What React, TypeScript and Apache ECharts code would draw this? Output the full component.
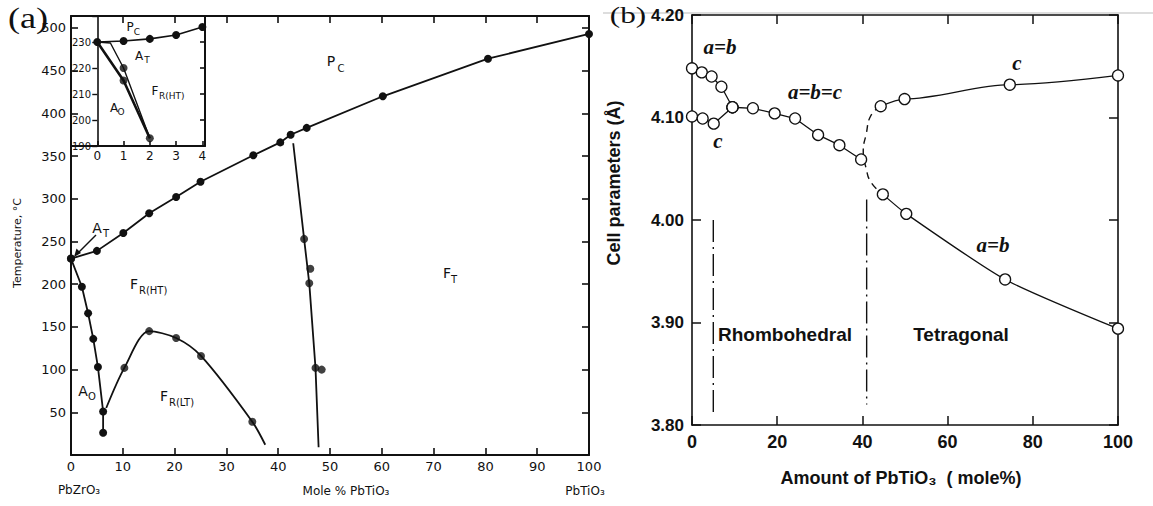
import React, { useEffect, useRef } from "react";
import * as echarts from "echarts";

// ---------- Panel (a): PbZrO3 - PbTiO3 phase diagram (x: mole % PbTiO3, y: °C)
const mainXTicks = [0, 10, 20, 30, 40, 50, 60, 70, 80, 90, 100];
const mainYTicks = [0, 50, 100, 150, 200, 250, 300, 350, 400, 450, 500];
const curieLine = [[0, 230], [5, 239], [10.1, 260], [15.1, 283], [20.3, 302], [25, 320], [35.2, 351], [40.4, 366], [42.4, 375], [45.5, 383], [60.2, 420], [80.5, 464], [100, 493]];
const mpbLine = [[42.9, 365], [45, 253], [46, 201], [47.2, 102], [47.8, 9]];
const mpbPoints = [[45, 253], [46.2, 218], [46, 201], [47.2, 102], [48.4, 100]];
const aoBoundary = [[0, 230], [2.1, 197], [3.3, 166], [4.3, 136], [5.2, 103], [6.2, 51], [6.2, 26]];
const fltBoundary = [[6.8, 55], [10.3, 102], [15.1, 145], [20.3, 137], [25.1, 116], [35, 39], [37.5, 12]];
const fltPoints = [[10.3, 102], [15.1, 145], [20.3, 137], [25.1, 116], [35, 39]];

// inset (0-4 mole %, 190-230 °C)
const insetCurie = [[0, 230], [1, 230.4], [2, 231.2], [3, 232.7], [4, 235.8]];
const insetATBoundary = [[0, 230], [0.5, 229.6], [1, 220], [2, 193]];
const insetAOBoundary = [[0, 230], [1, 215.2], [2, 193]];
const insetPoints = [[1, 220], [1, 215.2], [2, 193]];

// ---------- Panel (b): cell parameters (Å) vs mole % PbTiO3
const abRhombo = [[0, 4.148], [2.3, 4.144], [4.6, 4.14], [6.9, 4.13], [9.5, 4.11]];
const cRhombo = [[0, 4.101], [2.5, 4.099], [5.1, 4.094], [9.5, 4.11]];
const abcCubic = [[9.5, 4.11], [14.3, 4.109], [19.4, 4.104], [24.2, 4.099], [29.6, 4.083], [34.6, 4.073], [39.7, 4.059]];
const cTetra = [[44.3, 4.111], [49.9, 4.118], [74.6, 4.132], [100, 4.141]];
const abTetra = [[44.8, 4.025], [50.3, 4.006], [73.5, 3.942], [100, 3.894]];
const transitionCurve = [[44.3, 4.111], [42, 4.102], [40.9, 4.084], [40.2, 4.067], [40.9, 4.05], [42, 4.037], [44.8, 4.025]];
const rhomboLimit = [[5, 4.0], [5, 3.81]];
const tetraLimit = [[41, 4.02], [41, 3.82]];

const INK = "#111";
const SANS = "DejaVu Sans, Liberation Sans, sans-serif";
const ARIAL = "Liberation Sans, Arial, sans-serif";
const SERIF = "Liberation Serif, Times New Roman, serif";

type TOpt = { family?: string; weight?: string; style?: string; align?: string; rotation?: number; scaleX?: number };
const txt = (x: number, y: number, text: string, size: number, o: TOpt = {}) => ({
  type: "text",
  x,
  y,
  rotation: o.rotation || 0,
  scaleX: o.scaleX || 1,
  silent: true,
  z: 100,
  style: {
    text,
    fill: INK,
    fontSize: size,
    fontFamily: o.family || SANS,
    fontWeight: o.weight || "normal",
    fontStyle: o.style || "normal",
    textAlign: o.align || "center",
    align: o.align || "center",
    textVerticalAlign: "middle",
    verticalAlign: "middle",
  },
});

const hiddenAxisBase = {
  axisLabel: { show: false },
  splitLine: { show: false },
};

function buildOption() {
  const fmtMainY = (v: number) => (mainYTicks.includes(v) && v !== 0 ? String(v) : "");
  const fmtMainX = (v: number) => (mainXTicks.includes(v) ? String(v) : "");
  const lineA = { show: true, onZero: false, lineStyle: { color: INK, width: 2 } };
  const lineB = { show: true, onZero: false, lineStyle: { color: INK, width: 1.6 } };
  const tickA = { show: true, inside: true, length: 7, lineStyle: { color: INK, width: 1.6 } };
  const tickB = { show: true, inside: true, length: 9, lineStyle: { color: INK, width: 1.5 } };

  const filledDot = { symbol: "circle", symbolSize: 8, itemStyle: { color: INK } };
  const openDot = {
    symbol: "circle",
    symbolSize: 11,
    showSymbol: true,
    itemStyle: { color: "#fff", borderColor: INK, borderWidth: 1.3 },
  };

  const arrowTip = [74, 257];
  const SUB = 10;
  const BIG = 14;
  return {
    animation: false,
    backgroundColor: "#fff",
    grid: [
      { left: 71, top: 16, width: 518, height: 439, outerBoundsMode: "none", containLabel: false },
      { left: 71, top: 16, width: 134, height: 130, outerBoundsMode: "none", containLabel: false },
      { left: 692, top: 15, width: 426, height: 410, outerBoundsMode: "none", containLabel: false },
    ],
    xAxis: [
      {
        gridIndex: 0, type: "value", min: 0, max: 100, interval: 10,
        axisLine: { ...lineA, onZero: true }, axisTick: tickA, splitLine: { show: false },
        axisLabel: { formatter: fmtMainX, color: INK, fontFamily: SANS, fontSize: 13, margin: 5 },
      },
      { gridIndex: 0, type: "value", position: "top", min: 0, max: 100, interval: 10, axisLine: lineA, axisTick: tickA, ...hiddenAxisBase },
      {
        gridIndex: 1, type: "value", min: -1, max: 4.1, interval: 1,
        axisLine: { ...lineA, onZero: true }, axisTick: { ...tickA, length: 5 }, splitLine: { show: false },
        axisLabel: { formatter: (v: number) => (v >= 0 && Number.isInteger(v) ? String(v) : ""), color: INK, fontFamily: SANS, fontSize: 12, margin: 4 },
      },
      {
        gridIndex: 2, type: "value", min: 0, max: 100, interval: 20,
        axisLine: { ...lineB, onZero: true }, axisTick: tickB, splitLine: { show: false },
        axisLabel: { color: INK, fontFamily: ARIAL, fontWeight: "bold", fontSize: 18, margin: 8 },
      },
      { gridIndex: 2, type: "value", position: "top", min: 0, max: 100, interval: 20, axisLine: lineB, axisTick: tickB, ...hiddenAxisBase },
    ],
    yAxis: [
      {
        gridIndex: 0, type: "value", min: 0, max: 514, interval: 50,
        axisLine: { ...lineA, onZero: true }, axisTick: tickA, splitLine: { show: false },
        axisLabel: { formatter: fmtMainY, color: INK, fontFamily: SANS, fontSize: 13, margin: 5 },
      },
      { gridIndex: 0, type: "value", position: "right", min: 0, max: 514, interval: 50, axisLine: lineA, axisTick: tickA, ...hiddenAxisBase },
      {
        gridIndex: 1, type: "value", min: 190, max: 240, interval: 10,
        axisLine: { show: true, onZero: true, lineStyle: { color: INK, width: 1.6 } },
        axisTick: { show: true, inside: false, length: 5, lineStyle: { color: INK, width: 1.4 } },
        splitLine: { show: false },
        axisLabel: { formatter: (v: number) => (v < 240 ? String(v) : ""), color: INK, fontFamily: SANS, fontSize: 10, margin: -20 },
      },
      { gridIndex: 1, type: "value", position: "right", min: 190, max: 240, interval: 10, axisLine: { ...lineA, width: 1.8 }, axisTick: { ...tickA, length: 5 }, ...hiddenAxisBase },
      {
        gridIndex: 2, type: "value", min: 3.8, max: 4.2, interval: 0.1,
        axisLine: { ...lineB, onZero: true }, axisTick: tickB, splitLine: { show: false },
        axisLabel: { formatter: (v: number) => v.toFixed(2), color: INK, fontFamily: ARIAL, fontWeight: "bold", fontSize: 17, margin: 8 },
      },
      { gridIndex: 2, type: "value", position: "right", min: 3.8, max: 4.2, interval: 0.1, axisLine: lineB, axisTick: tickB, ...hiddenAxisBase },
    ],
    series: [
      // ----- panel (a) main
      { type: "line", xAxisIndex: 0, yAxisIndex: 0, data: curieLine, ...filledDot, lineStyle: { color: INK, width: 1.8 } },
      { type: "line", xAxisIndex: 0, yAxisIndex: 0, data: mpbLine, showSymbol: false, lineStyle: { color: INK, width: 1.8 } },
      { type: "scatter", xAxisIndex: 0, yAxisIndex: 0, data: mpbPoints, ...filledDot },
      { type: "line", xAxisIndex: 0, yAxisIndex: 0, data: aoBoundary, ...filledDot, lineStyle: { color: INK, width: 1.8 } },
      { type: "line", xAxisIndex: 0, yAxisIndex: 0, data: fltBoundary, showSymbol: false, smooth: 0.3, lineStyle: { color: INK, width: 1.8 } },
      { type: "scatter", xAxisIndex: 0, yAxisIndex: 0, data: fltPoints, ...filledDot },
      // ----- panel (a) inset
      { type: "line", xAxisIndex: 2, yAxisIndex: 2, data: insetCurie, ...filledDot, lineStyle: { color: INK, width: 1.6 } },
      { type: "line", xAxisIndex: 2, yAxisIndex: 2, data: insetATBoundary, showSymbol: false, lineStyle: { color: INK, width: 1.4 } },
      { type: "line", xAxisIndex: 2, yAxisIndex: 2, data: insetAOBoundary, showSymbol: false, lineStyle: { color: INK, width: 2.6 } },
      { type: "scatter", xAxisIndex: 2, yAxisIndex: 2, data: insetPoints, ...filledDot },
      // ----- panel (b)
      { type: "line", xAxisIndex: 3, yAxisIndex: 4, data: rhomboLimit, showSymbol: false, lineStyle: { color: INK, width: 1.4, type: [22, 5, 2, 5] } },
      { type: "line", xAxisIndex: 3, yAxisIndex: 4, data: tetraLimit, showSymbol: false, lineStyle: { color: INK, width: 1.4, type: [22, 5, 2, 5] } },
      { type: "line", xAxisIndex: 3, yAxisIndex: 4, data: transitionCurve, showSymbol: false, smooth: 0.5, lineStyle: { color: INK, width: 1.4, type: [7, 5] } },
      { type: "line", xAxisIndex: 3, yAxisIndex: 4, data: abRhombo, ...openDot, lineStyle: { color: INK, width: 1.3 } },
      { type: "line", xAxisIndex: 3, yAxisIndex: 4, data: cRhombo, ...openDot, lineStyle: { color: INK, width: 1.3 } },
      { type: "line", xAxisIndex: 3, yAxisIndex: 4, data: abcCubic, ...openDot, lineStyle: { color: INK, width: 1.3 } },
      { type: "line", xAxisIndex: 3, yAxisIndex: 4, data: cTetra, ...openDot, smooth: 0.3, smoothMonotone: "x", lineStyle: { color: INK, width: 1.3 } },
      { type: "line", xAxisIndex: 3, yAxisIndex: 4, data: abTetra, ...openDot, smooth: 0.2, lineStyle: { color: INK, width: 1.3 } },
    ],
    graphic: [
      // panel labels
      txt(28, 18, "(a)", 29, { family: SERIF, scaleX: 1.25 }),
      txt(628, 15, "(b)", 24, { family: SERIF, scaleX: 1.3 }),
      { type: "line", silent: true, shape: { x1: 603, y1: 13, x2: 1153, y2: 13 }, style: { stroke: "#bbb", lineWidth: 1 } },
      // panel (a) main field labels
      txt(331, 61, "P", BIG), txt(341, 68, "C", SUB),
      txt(97, 228, "A", BIG), txt(106, 233, "T", SUB),
      txt(134, 284, "F", BIG), txt(139, 290, "R(HT)", SUB, { align: "left" }),
      txt(83, 391, "A", BIG), txt(92, 396, "O", SUB),
      txt(164, 396, "F", BIG), txt(169, 402, "R(LT)", SUB, { align: "left" }),
      txt(447, 273, "F", BIG), txt(454, 279, "T", SUB),
      // arrow to the A_T point
      { type: "line", silent: true, shape: { x1: 96, y1: 235, x2: 77, y2: 254 }, style: { stroke: INK, lineWidth: 1.4 } },
      { type: "polygon", silent: true, shape: { points: [arrowTip, [81, 253], [76.5, 248.5]] }, style: { fill: INK } },
      // inset field labels
      txt(130, 27, "P", 12), txt(137, 32, "C", 9),
      txt(139, 56, "A", 12), txt(147, 60, "T", 9),
      txt(155, 91, "F", 12), txt(159, 96, "R(HT)", 9, { align: "left" }),
      txt(114, 108, "A", 12), txt(121, 112, "O", 9),
      // panel (a) axis titles
      txt(17, 243, "Temperature, °C", 11, { rotation: Math.PI / 2 }),
      txt(79, 490, "PbZrO₃", 12),
      txt(346, 491, "Mole % PbTiO₃", 12),
      txt(585, 491, "PbTiO₃", 12),
      // panel (b) labels
      txt(720, 47, "a=b", 21, { family: SERIF, weight: "bold", style: "italic" }),
      txt(718, 141, "c", 21, { family: SERIF, weight: "bold", style: "italic" }),
      txt(815, 92, "a=b=c", 21, { family: SERIF, weight: "bold", style: "italic" }),
      txt(1017, 63, "c", 21, { family: SERIF, weight: "bold", style: "italic" }),
      txt(993, 245, "a=b", 21, { family: SERIF, weight: "bold", style: "italic" }),
      txt(785, 334, "Rhombohedral", 19, { family: ARIAL, weight: "bold" }),
      txt(961, 334, "Tetragonal", 19, { family: ARIAL, weight: "bold" }),
      txt(901, 478, "Amount of PbTiO₃  ( mole%)", 18, { family: ARIAL, weight: "bold" }),
      txt(614, 183, "Cell parameters (Å)", 18, { family: ARIAL, weight: "bold", rotation: Math.PI / 2 }),
    ],
  };
}

export default function App() {
  const ref = useRef<HTMLDivElement>(null);
  useEffect(() => {
    document.body.style.margin = "0";
    const chart = echarts.init(ref.current as HTMLDivElement, null, { renderer: "svg" });
    chart.setOption(buildOption() as any);
    return () => chart.dispose();
  }, []);
  return <div ref={ref} style={{ width: 1153, height: 506, background: "#fff" }} />;
}
